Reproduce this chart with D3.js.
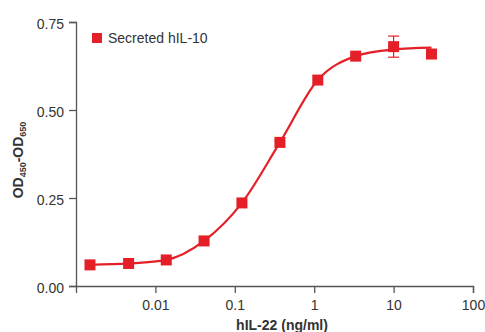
<!DOCTYPE html>
<html>
<head>
<meta charset="utf-8">
<script src="https://cdn.jsdelivr.net/npm/d3@7"></script>
<style>
  body { margin: 0; background: #fff; }
  svg { display: block; font-family: "Liberation Sans", Arial, sans-serif; }
</style>
</head>
<body>
<svg id="main" width="485" height="332"></svg>
<script>
// concentrations (ng/ml) and measured OD
const conc = [0.0015, 0.0046, 0.0137, 0.041, 0.123, 0.37, 1.11, 3.33, 10, 30];
const od = [0.060, 0.064, 0.074, 0.128, 0.236, 0.408, 0.585, 0.653, 0.680, 0.659];
const errs = [0, 0, 0, 0, 0, 0, 0, 0, 0.030, 0];
// fitted curve, at the same concentrations
const fitOd = [0.060, 0.064, 0.074, 0.128, 0.236, 0.408, 0.585, 0.653, 0.672, 0.677];
const yTicks = [0, 0.25, 0.5, 0.75];
const xTicks = [0.01, 0.1, 1, 10, 100];
const seriesName = 'Secreted hIL-10';

const red = '#e51f27';
const axisCol = '#555';
const textCol = '#333';

const svg = d3.select('#main');

const x = d3.scaleLog().domain([0.001, 100]).range([76, 473]);
const y = d3.scaleLinear().domain([0, 0.75]).range([286, 22]);

// y axis
const yAxis = svg.append('g')
  .attr('transform', 'translate(76,0)')
  .call(d3.axisLeft(y).tickValues(yTicks).tickFormat(d3.format('.2f')).tickSizeOuter(0).tickSize(7).tickPadding(5));

// x axis
const xAxis = svg.append('g')
  .attr('transform', 'translate(0,286)')
  .call(d3.axisBottom(x).tickValues(xTicks).tickFormat(d => String(d)).tickSizeOuter(0).tickSize(7).tickPadding(4));

[yAxis, xAxis].forEach(a => {
  a.select('.domain').attr('stroke', axisCol).attr('stroke-width', 1.3);
  a.selectAll('.tick line').attr('stroke', axisCol).attr('stroke-width', 1.3);
  a.selectAll('.tick text').attr('fill', textCol).style('font-size', '14px').style('font-family', 'inherit');
});
yAxis.selectAll('.tick text').attr('dy', '0.45em');
xAxis.selectAll('.tick text').attr('dy', '0.95em');

// axis titles
svg.append('text')
  .attr('x', 282).attr('y', 330)
  .attr('text-anchor', 'middle')
  .attr('fill', textCol)
  .style('font-size', '14px').style('font-weight', 'bold')
  .text('hIL-22 (ng/ml)');

const yt = svg.append('text')
  .attr('transform', 'translate(23,160) rotate(-90)')
  .attr('text-anchor', 'middle')
  .attr('fill', textCol)
  .style('font-size', '14px').style('font-weight', 'bold');
yt.append('tspan').text('OD');
yt.append('tspan').attr('dy', 3).style('font-size', '9px').text('450');
yt.append('tspan').attr('dy', -3).text('-OD');
yt.append('tspan').attr('dy', 3).style('font-size', '9px').text('650');

// fitted curve
const line = d3.line()
  .x(d => x(d[0]))
  .y(d => y(d[1]))
  .curve(d3.curveMonotoneX);

svg.append('path')
  .datum(conc.map((c, i) => [c, fitOd[i]]))
  .attr('d', line)
  .attr('fill', 'none')
  .attr('stroke', red)
  .attr('stroke-width', 2.2);

// error bars
const pts = conc.map((c, i) => ({ c: c, v: od[i], e: errs[i] }));
const eb = svg.append('g').selectAll('g').data(pts.filter(d => d.e > 0)).join('g')
  .attr('stroke', red).attr('stroke-width', 1.2);
eb.append('line')
  .attr('x1', d => x(d.c)).attr('x2', d => x(d.c))
  .attr('y1', d => y(d.v - d.e)).attr('y2', d => y(d.v + d.e));
eb.selectAll('.cap').data(d => [[d.c, d.v - d.e], [d.c, d.v + d.e]]).join('line')
  .attr('class', 'cap')
  .attr('x1', d => x(d[0]) - 5.5).attr('x2', d => x(d[0]) + 5.5)
  .attr('y1', d => y(d[1])).attr('y2', d => y(d[1]));

// markers
const ms = 11;
svg.append('g').selectAll('rect').data(pts).join('rect')
  .attr('x', d => x(d.c) - ms / 2)
  .attr('y', d => y(d.v) - ms / 2)
  .attr('width', ms).attr('height', ms)
  .attr('fill', red);

// legend
svg.append('rect').attr('x', 92).attr('y', 33).attr('width', 10).attr('height', 10).attr('fill', red);
svg.append('text')
  .attr('x', 108).attr('y', 43)
  .attr('fill', textCol)
  .style('font-size', '14px')
  .text(seriesName);
</script>
</body>
</html>
